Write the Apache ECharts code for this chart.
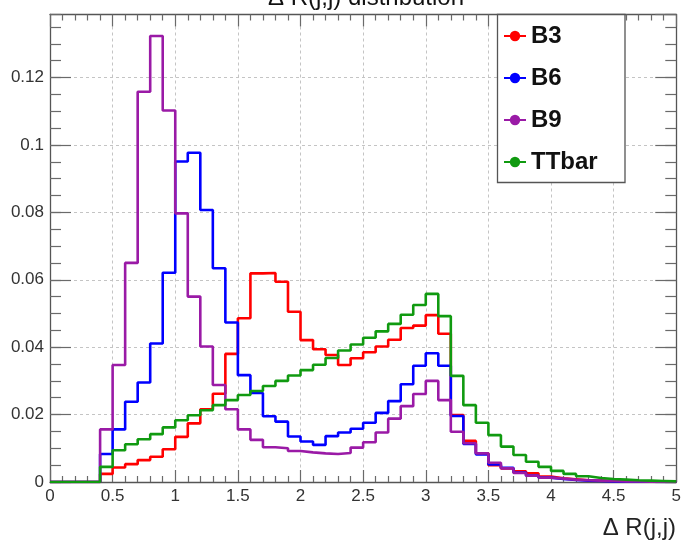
<!DOCTYPE html>
<html>
<head>
<meta charset="utf-8">
<script src="https://cdn.jsdelivr.net/npm/echarts@6/dist/echarts.min.js"></script>
<style>
  html, body { margin: 0; padding: 0; background: #fff; }
  #chart { width: 684px; height: 544px; }
</style>
</head>
<body>
<div id="chart"></div>
<script>
// Histogram binning: 50 bins of width 0.1 on [0, 5]
const lowEdge = 0;
const binWidth = 0.1;

// Bin contents (normalised) per sample, bin 0 = [0, 0.1)
const b3 = [
  0, 0, 0, 0, 0.0024, 0.0043, 0.0053, 0.0065, 0.0075, 0.0097,
  0.0134, 0.0174, 0.0216, 0.0262, 0.0380, 0.0486, 0.0619, 0.0620, 0.0594, 0.0505,
  0.0421, 0.0394, 0.0377, 0.0347, 0.0367, 0.0385, 0.0402, 0.0422, 0.0457, 0.0464,
  0.0495, 0.0440, 0.0199, 0.0122, 0.0085, 0.0050, 0.0040, 0.0032, 0.0026, 0.0016,
  0.0011, 0.0008, 0.0005, 0.0004, 0.0003, 0.0002, 0.0001, 0.0001, 0.0001, 0
];
const b6 = [
  0, 0, 0, 0, 0.0083, 0.0156, 0.0238, 0.0295, 0.0411, 0.0621,
  0.0951, 0.0977, 0.0807, 0.0634, 0.0473, 0.0317, 0.0264, 0.0195, 0.0179, 0.0135,
  0.0120, 0.0110, 0.0136, 0.0147, 0.0158, 0.0176, 0.0205, 0.0240, 0.0290, 0.0345,
  0.0382, 0.0345, 0.0196, 0.0113, 0.0082, 0.0052, 0.0042, 0.0028, 0.0019, 0.0013,
  0.0009, 0.0006, 0.0004, 0.0003, 0.0002, 0.0001, 0.0001, 0.0001, 0, 0
];
const b9 = [
  0, 0, 0, 0, 0.0156, 0.0347, 0.0650, 0.1158, 0.1323, 0.1102,
  0.0797, 0.0550, 0.0402, 0.0288, 0.0216, 0.0156, 0.0125, 0.0103, 0.0100, 0.0092,
  0.0088, 0.0085, 0.0083, 0.0086, 0.0102, 0.0118, 0.0147, 0.0188, 0.0225, 0.0261,
  0.0300, 0.0243, 0.0149, 0.0115, 0.0085, 0.0057, 0.0041, 0.0027, 0.0019, 0.0013,
  0.0010, 0.0007, 0.0005, 0.0004, 0.0003, 0.0002, 0.0002, 0.0001, 0.0001, 0.0001
];
const ttbar = [
  0, 0, 0, 0, 0.0045, 0.0094, 0.0112, 0.0127, 0.0142, 0.0162,
  0.0183, 0.0198, 0.0213, 0.0228, 0.0243, 0.0258, 0.0270, 0.0285, 0.0300, 0.0316,
  0.0332, 0.0348, 0.0368, 0.0390, 0.0408, 0.0428, 0.0447, 0.0469, 0.0496, 0.0525,
  0.0558, 0.0492, 0.0315, 0.0228, 0.0176, 0.0139, 0.0105, 0.0080, 0.0060, 0.0045,
  0.0033, 0.0024, 0.0017, 0.0012, 0.0009, 0.0007, 0.0005, 0.0004, 0.0003, 0.0002
];

const seriesNames = ['B3', 'B6', 'B9', 'TTbar'];
const seriesColors = ['#ff0000', '#0000ff', '#9a1aa6', '#109a10'];
const seriesValues = [b3, b6, b9, ttbar];

const xTicks = { min: 0, max: 5, major: 0.5, minorSplit: 5 };
const yTicks = { min: 0, max: 0.1387, major: 0.02, minor: 0.005 };

const titleText = 'Δ R(j,j) distribution';
const xTitleText = 'Δ R(j,j)';

// Step histogram: one point per low bin edge plus the closing upper edge
function histPoints(vals) {
  const pts = vals.map((v, i) => [+(lowEdge + i * binWidth).toFixed(4), v]);
  pts.push([+(lowEdge + vals.length * binWidth).toFixed(4), vals[vals.length - 1]]);
  return pts;
}

const FONT = '"Liberation Sans", Arial, Helvetica, sans-serif';
const frameColor = '#555';
const tickColor = '#6a6a6a';
const gridLine = { show: true, lineStyle: { color: '#c4c4c4', type: [3, 3], width: 1 } };
const numFmt = v => String(+(+v).toFixed(4));

const chart = echarts.init(document.getElementById('chart'), null, { renderer: 'canvas' });

function xAxisDef(position, labels) {
  return {
    type: 'value', position, min: xTicks.min, max: xTicks.max, interval: xTicks.major,
    axisLine: { show: true, onZero: false, lineStyle: { color: frameColor, width: 1.3 } },
    axisTick: { show: true, inside: true, length: 12, lineStyle: { color: tickColor, width: 1.2 } },
    minorTick: { show: true, splitNumber: xTicks.minorSplit, length: 6, lineStyle: { color: tickColor, width: 1.2 } },
    axisLabel: labels ? { show: true, margin: 6, fontSize: 17, color: '#333', fontFamily: FONT, formatter: numFmt } : { show: false },
    splitLine: labels ? gridLine : { show: false }
  };
}
function yAxisDef(position, interval, tickLen, main, labels) {
  return {
    type: 'value', position, min: yTicks.min, max: yTicks.max, interval,
    axisLine: { show: main, onZero: false, lineStyle: { color: frameColor, width: 1.3 } },
    axisTick: { show: true, inside: true, length: tickLen, lineStyle: { color: tickColor, width: 1.2 } },
    axisLabel: labels ? { show: true, margin: 6, fontSize: 17, color: '#333', fontFamily: FONT, showMaxLabel: false, formatter: numFmt } : { show: false },
    splitLine: labels ? gridLine : { show: false }
  };
}

const option = {
  animation: false,
  backgroundColor: '#fff',
  grid: { left: 50, right: 7.5, top: 14.5, bottom: 62, containLabel: false },
  xAxis: [
    xAxisDef('bottom', true),
    xAxisDef('top', false)
  ],
  yAxis: [
    yAxisDef('left', yTicks.major, 21, true, true),
    yAxisDef('left', yTicks.minor, 11, false, false),
    yAxisDef('right', yTicks.major, 21, true, false),
    yAxisDef('right', yTicks.minor, 11, false, false)
  ],
  legend: {
    orient: 'vertical',
    left: 498, top: 19,
    itemWidth: 22, itemHeight: 13, itemGap: 18,
    textStyle: { fontSize: 24, fontWeight: 'bold', color: '#111', fontFamily: FONT, lineHeight: 24 },
    data: seriesNames,
    z: 10
  },
  graphic: [
    { type: 'rect', z: 5, shape: { x: 497.5, y: 14.5, width: 127.5, height: 168 },
      style: { fill: '#fff', stroke: '#555', lineWidth: 1.3 } },
    { type: 'text', z: 5, x: 366, y: -2,
      style: { text: titleText, font: '24px ' + FONT, fill: '#111', align: 'center', verticalAlign: 'middle' } },
    { type: 'text', z: 5, x: 676, y: 528,
      style: { text: xTitleText, font: '24px ' + FONT, fill: '#222', align: 'right', verticalAlign: 'middle' } }
  ],
  series: seriesNames.map((name, k) => ({
    name, type: 'line', step: 'end',
    xAxisIndex: 0, yAxisIndex: 0,
    data: histPoints(seriesValues[k]),
    symbol: 'circle', showSymbol: false, symbolSize: 6,
    color: seriesColors[k],
    lineStyle: { color: seriesColors[k], width: 2.6 },
    itemStyle: { color: seriesColors[k] },
    clip: true, silent: true, z: 2 + k
  }))
};

chart.setOption(option);
</script>
</body>
</html>
